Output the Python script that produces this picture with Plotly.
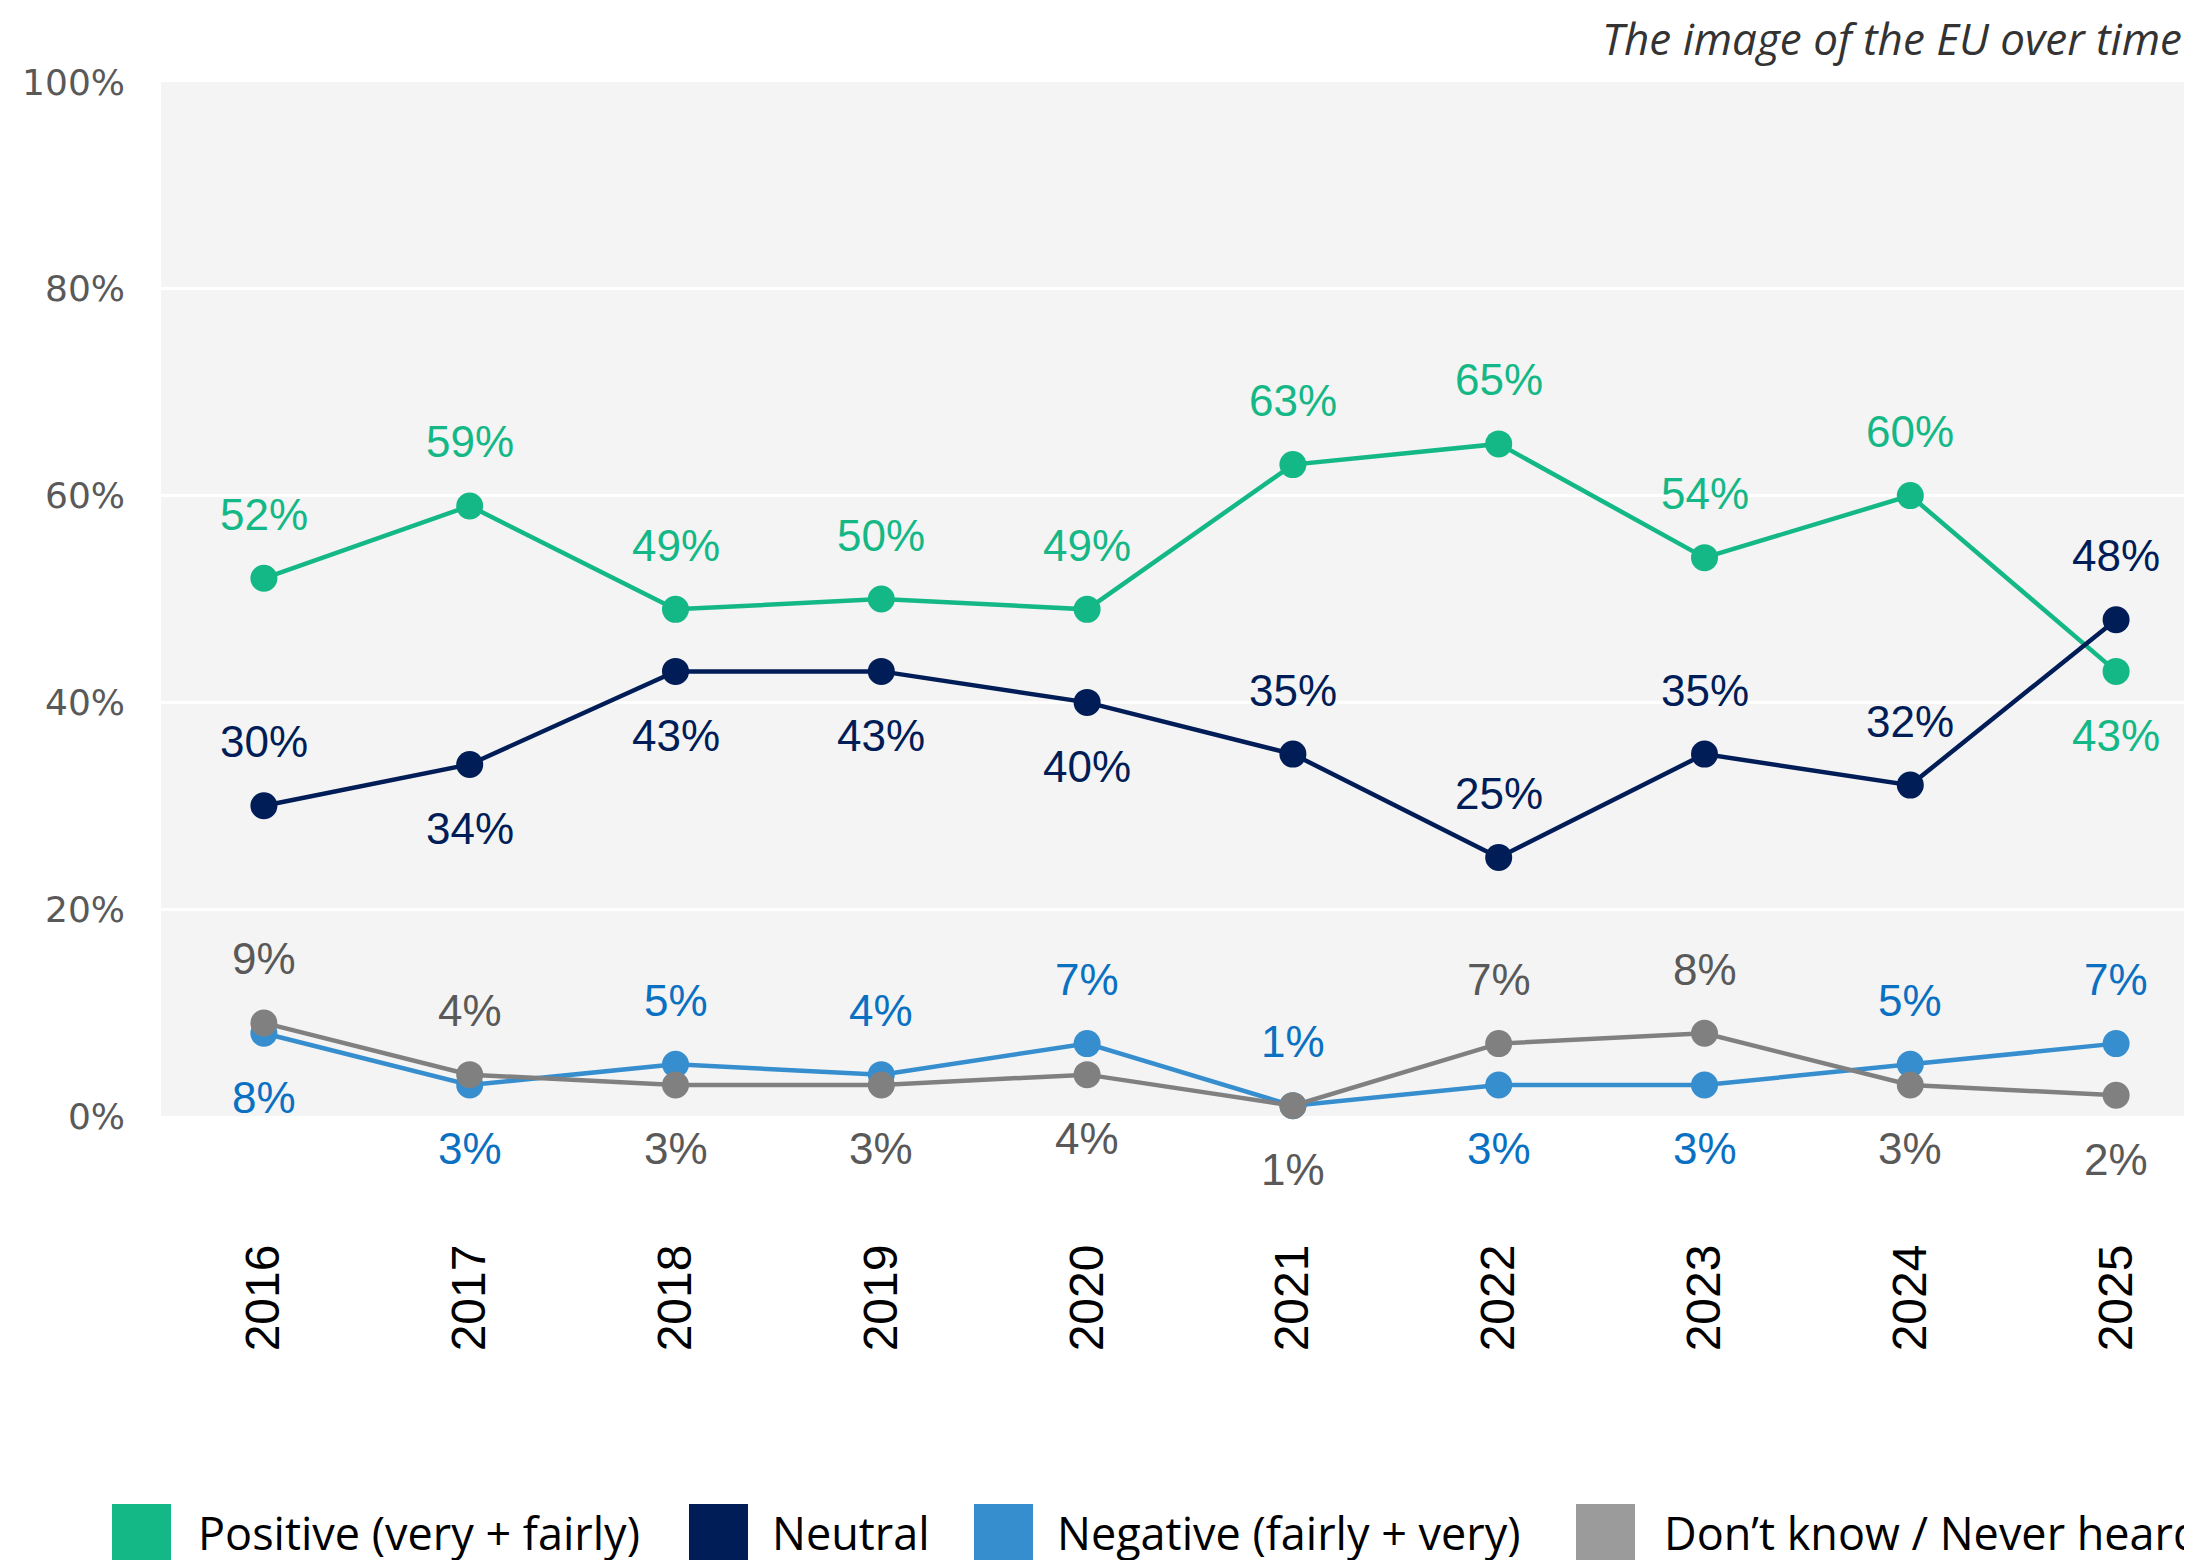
import plotly.graph_objects as go

years = ["2016", "2017", "2018", "2019", "2020", "2021", "2022", "2023", "2024", "2025"]
positive = [52, 59, 49, 50, 49, 63, 65, 54, 60, 43]
neutral = [30, 34, 43, 43, 40, 35, 25, 35, 32, 48]
negative = [8, 3, 5, 4, 7, 1, 3, 3, 5, 7]
dont_know = [9, 4, 3, 3, 4, 1, 7, 8, 3, 2]

series_names = ["Positive (very + fairly)", "Neutral", "Negative (fairly + very)", "Don\u2019t know / Never heard"]
y_ticks = [0, 20, 40, 60, 80, 100]

# label placement: +1 above, -1 below
pos_place = [1, 1, 1, 1, 1, 1, 1, 1, 1, -1]
neu_place = [1, -1, -1, -1, -1, 1, 1, 1, 1, 1]
neg_place = [-1, -1, 1, 1, 1, 1, -1, -1, 1, 1]
dk_place = [1, 1, -1, -1, -1, -1, 1, 1, -1, -1]

W, H = 2192, 1560
ML, MR, MT, MB = 153, 0, 74, 452
PW = W - ML - MR
PH = H - MT - MB
STEP = 205.8  # pixel spacing between categories

def px(x):
    return (x - ML) / PW

def py(y):
    return (H - MB - y) / PH

series = [
    (series_names[0], positive, pos_place, "#14B886", "#14B886", "#14B886"),
    (series_names[1], neutral, neu_place, "#001D57", "#001D57", "#001D57"),
    (series_names[2], negative, neg_place, "#368ECF", "#0A70C2", "#368ECF"),
    (series_names[3], dont_know, dk_place, "#808080", "#595959", "#9B9B9B"),
]

fig = go.Figure()
annotations = []
for name, vals, place, lc, tc, legc in series:
    fig.add_trace(go.Scatter(
        x=years, y=vals, mode="lines+markers", name=name,
        line=dict(color=lc, width=4.5),
        marker=dict(color=lc, size=27),
        cliponaxis=False, showlegend=False,
    ))
    for i, (v, p) in enumerate(zip(vals, place)):
        annotations.append(dict(
            x=i, y=v, xref="x", yref="y", text=f"{v}%", showarrow=False,
            yshift=64 * p, yanchor="middle", xanchor="center",
            font=dict(family="Liberation Sans, Arial", size=44, color=tc),
        ))

# title
annotations.append(dict(
    x=1, y=1, xref="paper", yref="paper", xanchor="right", yanchor="middle",
    xshift=-16, yshift=44, showarrow=False,
    text="<i>The image of the EU over time</i>",
    font=dict(family="Open Sans", size=44, color="#333333"),
))

# legend (manual)
shapes = []
sq_x = [104, 681, 966, 1568]
tx_x = [188, 762, 1047, 1654]
for (name, vals, place, lc, tc, legc), sx, tx in zip(series, sq_x, tx_x):
    shapes.append(dict(type="rect", xref="paper", yref="paper",
                       x0=px(sx), x1=px(sx + 59), y0=py(1496), y1=py(1560),
                       fillcolor=legc, line=dict(width=0), layer="above"))
    annotations.append(dict(
        x=px(tx), y=py(1524), xref="paper", yref="paper", xanchor="left", yanchor="middle",
        showarrow=False, text=name,
        font=dict(family="Open Sans", size=45, color="#000000"),
    ))

fig.update_layout(
    width=W, height=H,
    margin=dict(l=ML, r=MR, t=MT, b=MB, autoexpand=False),
    paper_bgcolor="white", plot_bgcolor="#F4F4F4",
    annotations=annotations, shapes=shapes,
    showlegend=False,
)
fig.update_xaxes(
    type="category", range=[-0.5, -0.5 + PW / STEP],
    tickangle=-90, showgrid=False, zeroline=False, showline=False,
    ticks="", ticklabelstandoff=118,
    tickfont=dict(family="Liberation Sans, Arial", size=48, color="#000000"),
)
fig.update_yaxes(
    range=[0, 100], tickvals=y_ticks, ticktext=[f"{t}%" for t in y_ticks],
    showgrid=True, gridcolor="white", gridwidth=3, zeroline=False, showline=False,
    ticks="", ticklabelstandoff=35,
    tickfont=dict(family="DejaVu Sans", size=36, color="#595959"),
)

fig.write_html("out.html")
